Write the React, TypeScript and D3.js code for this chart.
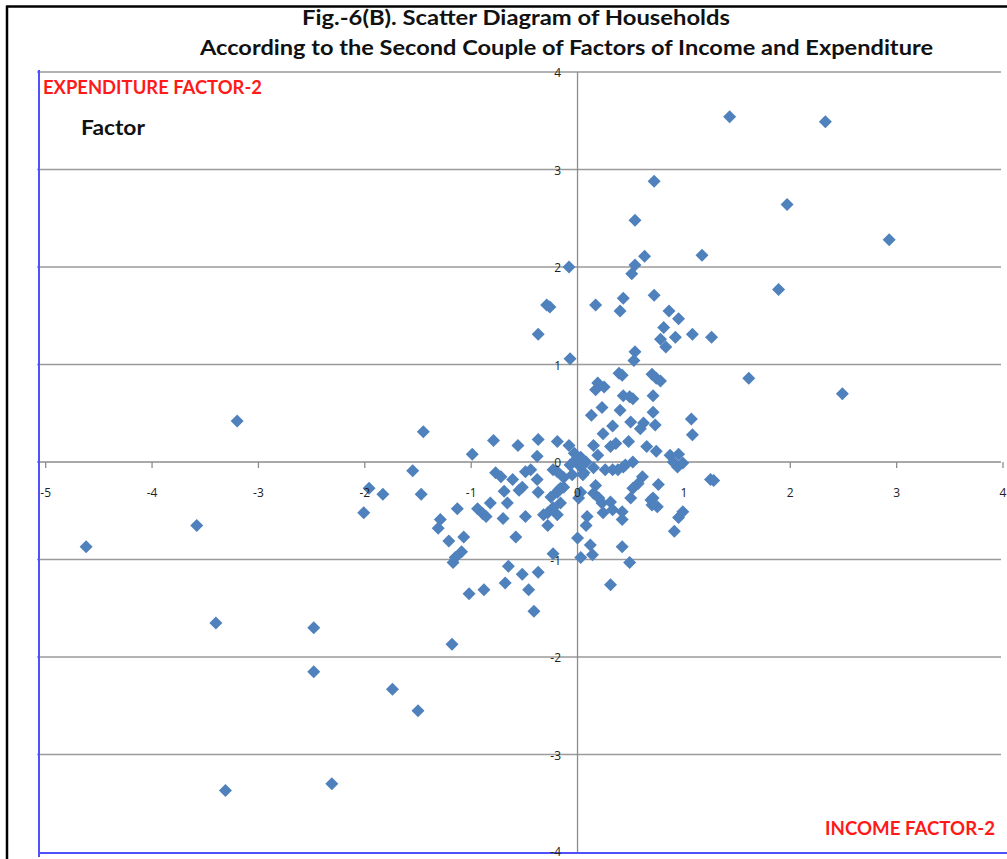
import React from "react";
import * as d3 from "d3";

const incomeFactor2: number[] = [
  1.43, 2.33, 0.72, 1.97, 2.93, 0.54, 0.63, 1.17, 0.54, 0.51,
  -0.08, -0.29, -0.26, 0.17, 0.43, 0.40, 0.72, 0.86, 0.95, 0.81,
  0.92, 1.08, 1.26, 0.78, 0.83, -0.37, -0.07, 0.54, 0.53, 1.61,
  2.49, 1.89, 0.39, 0.42, 0.70, 0.74, 0.78, 0.19, 0.17, 0.25,
  0.43, 0.49, 0.52, 0.71, 0.23, 0.13, 0.40, 0.71, 1.07, 1.08,
  0.33, 0.50, 0.62, 0.59, 0.73, 0.24, -0.79, -0.56, -0.37, -0.19,
  -0.08, -1.45, -0.99, -0.38, 0.15, 0.31, 0.36, 0.48, 0.65, 0.74,
  0.87, 0.95, 0.19, 0.03, -0.02, -0.23, -0.05, 0.06, 0.15, 0.26,
  0.33, 0.43, 0.52, 0.94, 0.99, 0.90, 1.25, 1.28, 0.61, 0.57,
  0.52, 0.76, -0.16, -0.19, 0.17, 0.15, 0.20, 0.01, 0.03, 0.31,
  0.24, 0.33, 0.50, 0.42, 0.42, 0.71, 0.70, 0.75, 0.99, 0.95,
  0.91, -0.28, -0.28, -0.23, 0.09, 0.08, 0.00, 0.12, 0.14, 0.03,
  0.42, 0.49, 0.31, -0.23, 0.08, 0.02, -0.07, -1.55, -1.47, -0.77,
  -0.72, -0.61, -0.69, -0.55, -0.52, -0.49, -0.44, -0.38, -0.37, -0.19,
  -0.18, -0.13, -0.82, -0.66, -1.13, -0.94, -0.89, -0.86, -0.70, -0.49,
  -0.32, -0.19, -1.29, -1.31, -1.21, -1.07, -0.58, -1.09, -1.17, -1.15,
  -0.65, -0.52, -0.37, -0.68, -0.46, -0.88, -1.02, -0.41, -1.96, -1.83,
  -2.01, -3.20, -3.58, -4.62, -3.40, -2.48, -1.18, -2.48, -1.74, -1.50,
  -3.31, -2.31, -0.03, 0.05, -0.13, -0.25, -0.16, 0.23, 0.38, 0.45,
  0.69,
];

const expenditureFactor2: number[] = [
  3.54, 3.49, 2.88, 2.64, 2.28, 2.48, 2.11, 2.12, 2.02, 1.93,
  2.00, 1.61, 1.59, 1.61, 1.68, 1.55, 1.71, 1.55, 1.47, 1.38,
  1.28, 1.31, 1.28, 1.26, 1.18, 1.31, 1.06, 1.13, 1.04, 0.86,
  0.70, 1.77, 0.91, 0.89, 0.90, 0.86, 0.83, 0.81, 0.74, 0.77,
  0.68, 0.67, 0.65, 0.68, 0.56, 0.48, 0.53, 0.51, 0.44, 0.28,
  0.37, 0.41, 0.40, 0.34, 0.38, 0.29, 0.22, 0.17, 0.23, 0.21,
  0.17, 0.31, 0.08, 0.06, 0.17, 0.16, 0.19, 0.21, 0.16, 0.11,
  0.07, 0.08, 0.07, 0.05, 0.02, -0.08, -0.13, -0.11, -0.06, -0.08,
  -0.08, -0.05, 0.00, -0.05, -0.01, 0.00, -0.18, -0.19, -0.15, -0.22,
  -0.27, -0.23, -0.27, -0.31, -0.24, -0.32, -0.37, -0.37, -0.31, -0.41,
  -0.52, -0.49, -0.37, -0.51, -0.59, -0.37, -0.44, -0.46, -0.51, -0.57,
  -0.71, -0.52, -0.65, -0.47, -0.56, -0.65, -0.78, -0.85, -0.95, -0.98,
  -0.87, -1.03, -1.26, -0.94, 0.00, -0.04, -0.03, -0.09, -0.33, -0.11,
  -0.15, -0.18, -0.30, -0.29, -0.26, -0.10, -0.08, -0.18, -0.31, -0.10,
  -0.29, -0.26, -0.42, -0.42, -0.48, -0.48, -0.53, -0.56, -0.58, -0.56,
  -0.54, -0.54, -0.59, -0.68, -0.81, -0.77, -0.77, -0.92, -1.03, -0.98,
  -1.07, -1.15, -1.13, -1.24, -1.31, -1.31, -1.35, -1.53, -0.27, -0.33,
  -0.52, 0.42, -0.65, -0.87, -1.65, -1.70, -1.87, -2.15, -2.33, -2.55,
  -3.37, -3.30, 0.09, -0.13, -0.16, -0.36, -0.42, -0.42, -0.08, -0.03,
  -0.39,
];

const xTicks: number[] = [-5, -4, -3, -2, -1, 0, 1, 2, 3, 4];
const yTicks: number[] = [-4, -3, -2, -1, 0, 1, 2, 3, 4];

const titleLine1 = "Fig.-6(B). Scatter Diagram of Households";
const titleLine2 = "According to the Second Couple of Factors of Income and Expenditure";
const yAxisLabel = "EXPENDITURE FACTOR-2";
const subLabel = "Factor";
const xAxisLabel = "INCOME FACTOR-2";

export default function App() {
  const W = 1007;
  const H = 859;
  const x = d3.scaleLinear().domain([-5, 4]).range([45.7, 1003]);
  const y = d3.scaleLinear().domain([-4, 4]).range([852, 72]);
  const gridLeft = 37;
  const gridRight = 1001;
  const x0 = x(0);
  const y0 = y(0);
  const r = 6.5;
  const pts = incomeFactor2.map((v, i) => [x(v), y(expenditureFactor2[i])]);
  const diamond = (cx: number, cy: number) =>
    `M${cx},${cy - r}L${cx + r},${cy}L${cx},${cy + r}L${cx - r},${cy}Z`;
  const font = "Lato, 'Open Sans', sans-serif";

  return (
    <svg
      width={W}
      height={H}
      style={{ position: "absolute", left: 0, top: 0, background: "#fff" }}
      fontFamily={font}
    >
      <rect x={0} y={0} width={W} height={H} fill="#fff" />
      {/* outer black frame */}
      <line x1={6} x2={W} y1={6.5} y2={6.5} stroke="#000" strokeWidth={2.5} />
      <line x1={7} x2={7} y1={6} y2={H} stroke="#000" strokeWidth={2.5} />

      {/* titles */}
      <text x={302} y={25} fontSize={20} fontWeight={700} fill="#111" textLength={428} lengthAdjust="spacingAndGlyphs">
        {titleLine1}
      </text>
      <text x={200} y={55} fontSize={20} fontWeight={700} fill="#111" textLength={733} lengthAdjust="spacingAndGlyphs">
        {titleLine2}
      </text>

      {/* horizontal gridlines */}
      {yTicks.filter((t) => t !== -4 && t !== 0).map((t) => (
        <line key={"g" + t} x1={gridLeft} x2={gridRight} y1={y(t)} y2={y(t)} stroke="#9a9a9a" strokeWidth={1.3} />
      ))}
      {/* vertical axis */}
      <line x1={x0} x2={x0} y1={y(4)} y2={y(-4)} stroke="#8c8c8c" strokeWidth={1.3} />
      {/* horizontal axis */}
      <line x1={gridLeft} x2={gridRight} y1={y0} y2={y0} stroke="#8c8c8c" strokeWidth={1.3} />
      {xTicks.map((t) => (
        <line key={"xt" + t} x1={x(t)} x2={x(t)} y1={y0} y2={y0 + 6} stroke="#8c8c8c" strokeWidth={1.3} />
      ))}

      {/* blue frame lines */}
      <line x1={39} x2={39} y1={70} y2={857} stroke="#5050ff" strokeWidth={2} />
      <line x1={40} x2={W} y1={853} y2={853} stroke="#5050ff" strokeWidth={2} />

      {/* points */}
      <g fill="#4f81bd">
        {pts.map(([cx, cy], i) => (
          <path key={i} d={diamond(cx, cy)} />
        ))}
      </g>

      {/* tick labels */}
      <g fontSize={12} fill="#222" fontFamily="'Open Sans', Lato, sans-serif">
        {xTicks.map((t) => (
          <text key={"xl" + t} x={x(t)} y={497} textAnchor="middle">
            {t}
          </text>
        ))}
        {yTicks.map((t) => (
          <text key={"yl" + t} x={561} y={Math.min(y(t) + 5, 856)} textAnchor="end">
            {t}
          </text>
        ))}
      </g>

      {/* axis labels */}
      <text x={43} y={94} fontSize={18} fontWeight={700} fill="#ff1a1a" textLength={219} lengthAdjust="spacingAndGlyphs">
        {yAxisLabel}
      </text>
      <text x={81} y={135} fontSize={21} fontWeight={700} fill="#111" textLength={64} lengthAdjust="spacingAndGlyphs">
        {subLabel}
      </text>
      <text x={825} y={835} fontSize={18} fontWeight={700} fill="#ff1a1a" textLength={170} lengthAdjust="spacingAndGlyphs">
        {xAxisLabel}
      </text>
    </svg>
  );
}
